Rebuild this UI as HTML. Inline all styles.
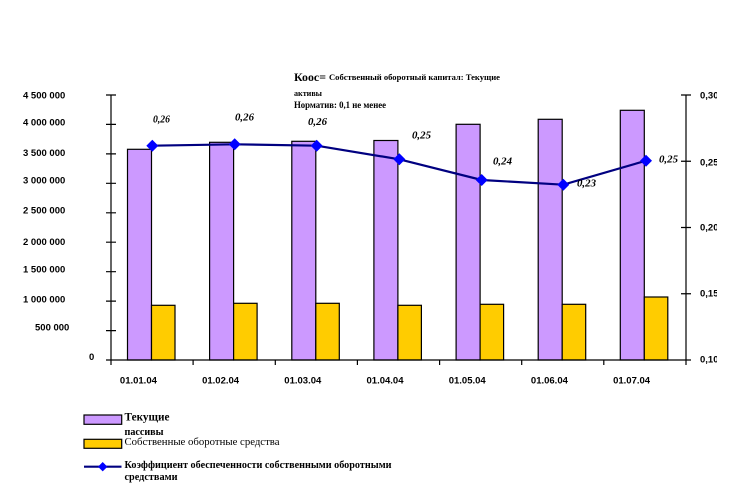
<!DOCTYPE html>
<html><head><meta charset="utf-8"><style>
html,body{margin:0;padding:0;background:#fff;}
svg{display:block;}
.ax{font-family:"Liberation Sans",sans-serif;font-weight:bold;font-size:9.5px;fill:#000;}
.sr{font-family:"Liberation Serif","DejaVu Serif",serif;fill:#000;}
</style></head><body>
<svg width="756" height="492" viewBox="0 0 756 492" xmlns="http://www.w3.org/2000/svg">
<rect width="756" height="492" fill="#fff"/>
<defs><clipPath id="rc"><rect x="690" y="80" width="27" height="300"/></clipPath></defs>

<!-- Title -->
<text class="sr" x="294" y="81" font-size="11.5" font-weight="bold" textLength="32" lengthAdjust="spacingAndGlyphs">Коос=</text>
<text class="sr" x="329" y="80" font-size="8.5" font-weight="bold" textLength="171" lengthAdjust="spacingAndGlyphs">Собственный оборотный капитал: Текущие</text>
<text class="sr" x="294" y="96" font-size="8.5" font-weight="bold" textLength="28" lengthAdjust="spacingAndGlyphs">активы</text>
<text class="sr" x="294" y="108" font-size="9" font-weight="bold" textLength="92" lengthAdjust="spacingAndGlyphs">Норматив: 0,1 не менее</text>

<!-- Bars -->
<g stroke="#000" stroke-width="1.2">
<rect x="127.5" y="149.3" width="24" height="210.7" fill="#CC99FF"/>
<rect x="151.5" y="305.3" width="23.5" height="54.7" fill="#FFCC00"/>
<rect x="209.6" y="142.3" width="24" height="217.7" fill="#CC99FF"/>
<rect x="233.6" y="303.3" width="23.5" height="56.7" fill="#FFCC00"/>
<rect x="291.8" y="141.3" width="24" height="218.7" fill="#CC99FF"/>
<rect x="315.8" y="303.3" width="23.5" height="56.7" fill="#FFCC00"/>
<rect x="373.9" y="140.5" width="24" height="219.5" fill="#CC99FF"/>
<rect x="397.9" y="305.3" width="23.5" height="54.7" fill="#FFCC00"/>
<rect x="456.1" y="124.3" width="24" height="235.7" fill="#CC99FF"/>
<rect x="480.1" y="304.3" width="23.5" height="55.7" fill="#FFCC00"/>
<rect x="538.2" y="119.3" width="24" height="240.7" fill="#CC99FF"/>
<rect x="562.2" y="304.3" width="23.5" height="55.7" fill="#FFCC00"/>
<rect x="620.3" y="110.3" width="24" height="249.7" fill="#CC99FF"/>
<rect x="644.3" y="297" width="23.5" height="63" fill="#FFCC00"/>
</g>

<!-- Axes -->
<g stroke="#000" stroke-width="1.2" fill="none">
<line x1="111" y1="95" x2="111" y2="360"/>
<line x1="686" y1="95" x2="686" y2="360"/>
<line x1="106" y1="360" x2="691" y2="360"/>
<path d="M106 95H116M106 124.4H116M106 153.9H116M106 183.3H116M106 212.8H116M106 242.2H116M106 271.7H116M106 301.1H116M106 330.6H116"/>
<path d="M681 95H691M681 161.25H691M681 227.5H691M681 293.75H691"/>
<path d="M111 360V365M193.1 360V365M275.3 360V365M357.4 360V365M439.6 360V365M521.7 360V365M603.8 360V365M686 360V365"/>
</g>

<!-- Left axis labels -->
<g class="ax">
<text x="23" y="98.4">4 500 000</text>
<text x="23" y="125.7">4 000 000</text>
<text x="23" y="156.1">3 500 000</text>
<text x="23" y="183.4">3 000 000</text>
<text x="23" y="213.4">2 500 000</text>
<text x="23" y="245.1">2 000 000</text>
<text x="23" y="272.7">1 500 000</text>
<text x="23" y="302.7">1 000 000</text>
<text x="35" y="330.7">500 000</text>
<text x="89" y="360.1">0</text>
</g>

<!-- Right axis labels -->
<g class="ax" clip-path="url(#rc)">
<text x="700" y="98.4">0,30</text>
<text x="700" y="165.4">0,25</text>
<text x="700" y="230.4">0,20</text>
<text x="700" y="296.4">0,15</text>
<text x="700" y="362.4">0,10</text>
</g>

<!-- Category labels -->
<g class="ax" text-anchor="middle">
<text x="138.4" y="383.4">01.01.04</text>
<text x="220.6" y="383.4">01.02.04</text>
<text x="302.8" y="383.4">01.03.04</text>
<text x="385" y="383.4">01.04.04</text>
<text x="467.2" y="383.4">01.05.04</text>
<text x="549.4" y="383.4">01.06.04</text>
<text x="631.6" y="383.4">01.07.04</text>
</g>

<!-- Line series -->
<polyline points="152.3,145.7 234.7,144.3 316.7,145.7 399.3,159.3 481.7,180 563.3,184.7 646,160.7" fill="none" stroke="#000080" stroke-width="2.2"/>
<g fill="#0000FF">
<path d="M152.3 139.7L158.3 145.7L152.3 151.7L146.3 145.7Z"/>
<path d="M234.7 138.3L240.7 144.3L234.7 150.3L228.7 144.3Z"/>
<path d="M316.7 139.7L322.7 145.7L316.7 151.7L310.7 145.7Z"/>
<path d="M399.3 153.3L405.3 159.3L399.3 165.3L393.3 159.3Z"/>
<path d="M481.7 174L487.7 180L481.7 186L475.7 180Z"/>
<path d="M563.3 178.7L569.3 184.7L563.3 190.7L557.3 184.7Z"/>
<path d="M646 154.7L652 160.7L646 166.7L640 160.7Z"/>
</g>

<!-- Data labels -->
<g class="sr" font-size="10" font-weight="bold" font-style="italic">
<text x="153" y="122.5" textLength="17" lengthAdjust="spacingAndGlyphs">0,26</text>
<text x="235" y="120.5" textLength="19" lengthAdjust="spacingAndGlyphs">0,26</text>
<text x="308" y="125.2" textLength="19" lengthAdjust="spacingAndGlyphs">0,26</text>
<text x="412" y="138.5" textLength="19" lengthAdjust="spacingAndGlyphs">0,25</text>
<text x="493" y="164.5" textLength="19" lengthAdjust="spacingAndGlyphs">0,24</text>
<text x="577" y="186.5" textLength="19" lengthAdjust="spacingAndGlyphs">0,23</text>
<text x="659" y="162.5" textLength="19" lengthAdjust="spacingAndGlyphs">0,25</text>
</g>

<!-- Legend -->
<rect x="84" y="415" width="37.7" height="9.3" fill="#CC99FF" stroke="#000" stroke-width="1.2"/>
<rect x="84" y="439.3" width="37.7" height="9" fill="#FFCC00" stroke="#000" stroke-width="1.2"/>
<line x1="84" y1="466.7" x2="121.5" y2="466.7" stroke="#000080" stroke-width="2.2"/>
<path d="M102.7 462L107.4 466.7L102.7 471.4L98 466.7Z" fill="#0000FF"/>
<g class="sr" font-weight="bold">
<text x="124.5" y="420.5" font-size="11.5" textLength="45" lengthAdjust="spacingAndGlyphs">Текущие</text>
<text x="124.5" y="435" font-size="10" textLength="39" lengthAdjust="spacingAndGlyphs">пассивы</text>
<text x="124.5" y="445" font-size="11" font-weight="normal" textLength="155" lengthAdjust="spacingAndGlyphs">Собственные оборотные средства</text>
<text x="124.5" y="468" font-size="10.5" textLength="267" lengthAdjust="spacingAndGlyphs">Коэффициент обеспеченности собственными оборотными</text>
<text x="124.5" y="480" font-size="10" textLength="53" lengthAdjust="spacingAndGlyphs">средствами</text>
</g>
</svg>
</body></html>
